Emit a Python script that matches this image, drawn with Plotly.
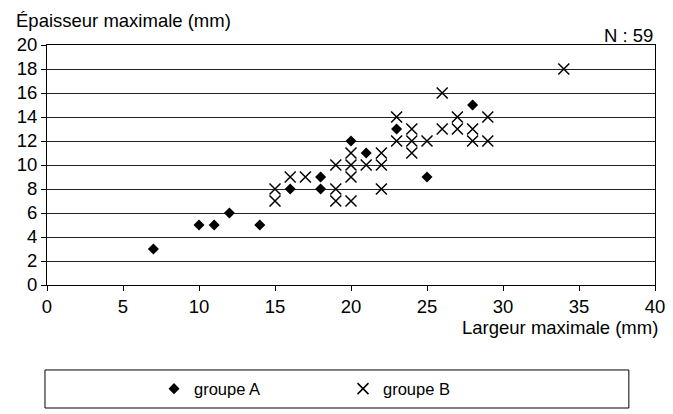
import plotly.graph_objects as go

# groupe A (diamonds)
a_largeur = [7, 10, 11, 12, 14, 16, 18, 18, 20, 21, 23, 25, 28]
a_epaisseur = [3, 5, 5, 6, 5, 8, 9, 8, 12, 11, 13, 9, 15]

# groupe B (crosses)
b_largeur = [15, 15, 16, 17, 19, 19, 19, 20, 20, 20, 20,
             21, 22, 22, 22, 23, 23, 24, 24, 24, 25,
             26, 26, 27, 27, 28, 28, 29, 29, 34]
b_epaisseur = [8, 7, 9, 9, 10, 8, 7, 11, 10, 9, 7,
               10, 11, 10, 8, 14, 12, 13, 12, 11, 12,
               16, 13, 14, 13, 13, 12, 14, 12, 18]

FONT = "Liberation Sans, Arial, sans-serif"
FS = 18.5

fig = go.Figure()
fig.add_trace(go.Scatter(
    x=a_largeur, y=a_epaisseur, mode="markers", name="groupe A",
    marker=dict(symbol="diamond", size=8.5, color="black"),
))
fig.add_trace(go.Scatter(
    x=b_largeur, y=b_epaisseur, mode="markers", name="groupe B",
    marker=dict(symbol="x-thin-open", size=11, color="black",
                line=dict(width=1.5, color="black")),
))

axis_common = dict(
    showline=True, linecolor="black", linewidth=1, mirror=True,
    ticks="outside", ticklen=5, tickcolor="black", tickwidth=1,
    tickfont=dict(family=FONT, size=FS, color="black"),
    zeroline=False, automargin=False,
)
fig.update_xaxes(range=[0, 40], dtick=5, showgrid=False, **axis_common)
fig.update_yaxes(range=[0, 20], dtick=2, showgrid=True, gridcolor="#222",
                 gridwidth=1, **axis_common)

# page body has an 8px margin, so the plot box is shifted up/left by 8px
fig.update_layout(
    width=673, height=414,
    margin=dict(l=39, r=26, t=37, b=137),
    plot_bgcolor="white", paper_bgcolor="white",
    font=dict(family=FONT, size=FS, color="black"),
    showlegend=True,
    legend=dict(orientation="h", x=0.176, xanchor="left", y=-0.433,
                yanchor="middle", entrywidth=144, bgcolor="rgba(0,0,0,0)",
                font=dict(family=FONT, size=16.5, color="black")),
    annotations=[
        dict(text="Épaisseur maximale (mm)", xref="paper", yref="paper",
             x=-0.054, y=1.1, xanchor="left", yanchor="middle",
             showarrow=False),
        dict(text="N : 59", xref="paper", yref="paper", x=1, y=1.0375,
             xanchor="right", yanchor="middle", showarrow=False),
        dict(text="Largeur maximale (mm)", xref="paper", yref="paper",
             x=1.008, y=-0.179, xanchor="right", yanchor="middle",
             showarrow=False),
    ],
    shapes=[
        dict(type="rect", xref="paper", yref="paper",
             x0=-0.0033, x1=0.957, y0=-0.5125, y1=-0.354,
             line=dict(color="black", width=1), fillcolor="rgba(0,0,0,0)"),
    ],
)

fig.write_html("out.html")
